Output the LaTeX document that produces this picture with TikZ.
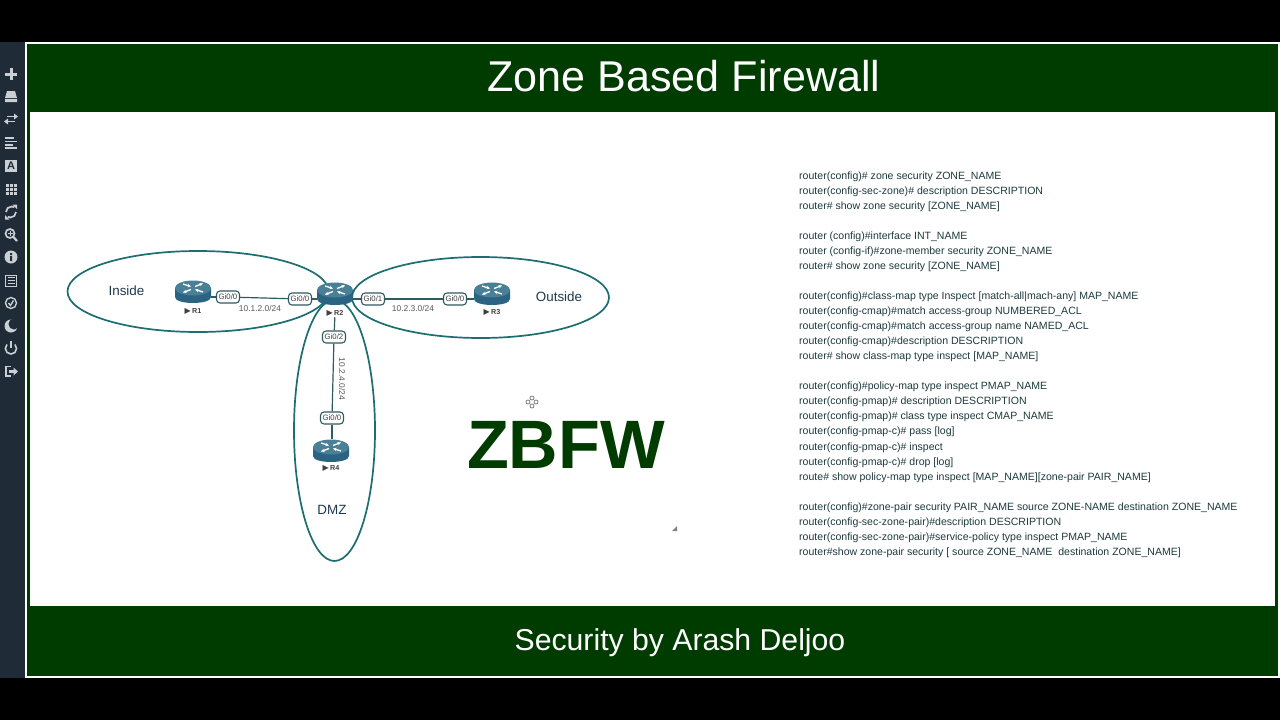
\documentclass[tikz,border=0pt]{standalone}
\usepackage{fontspec}
\setmainfont{Liberation Sans}
\newfontfamily\symfont{DejaVu Sans}
\usetikzlibrary{positioning,calc,shapes.geometric,arrows.meta}
\definecolor{bargreen}{HTML}{003C00}
\definecolor{zoneteal}{HTML}{1C6E70}
\definecolor{linkgray}{HTML}{2F5A60}
\definecolor{routerdark}{HTML}{2A6482}
\definecolor{routertop}{HTML}{4A7F98}
\definecolor{sidebar}{HTML}{1F2B36}
\definecolor{iconcol}{HTML}{C9CFD4}
\definecolor{cmdcol}{HTML}{1E3A3C}
\definecolor{zonetext}{HTML}{1F3A4C}
\tikzset{
  zone/.style={ellipse,draw=zoneteal,line width=1.7pt,inner sep=0pt},
  zonelabel/.style={font=\fontsize{13.4}{16}\selectfont,text=zonetext},
  port/.style={rectangle,rounded corners=3.5pt,draw=linkgray,line width=1.1pt,fill=white,inner sep=1pt,minimum width=23pt,minimum height=12pt,font=\fontsize{7.8}{8}\selectfont,text=black!75},
  net/.style={font=\fontsize{8.4}{10}\selectfont,text=black!65},
  link/.style={draw=linkgray,line width=1.2pt},
  routerbox/.style={rectangle,minimum width=36pt,minimum height=24pt,inner sep=0pt},
  routername/.style={font=\fontsize{7.2}{8}\selectfont\bfseries,text=black!75,inner sep=1pt},
  cmd/.style={anchor=west,inner sep=0pt,font=\fontsize{10.55}{13}\selectfont,text=cmdcol},
  icon/.style={draw=iconcol,line width=1.4pt},
  iconfill/.style={fill=iconcol},
  routerpic/.pic={
    \fill[routerdark] (-18,-4) -- (-18,5) .. controls (-18,13) and (18,13) .. (18,5) -- (18,-4) -- cycle;
    \fill[routertop] (0,-4) ellipse [x radius=18pt,y radius=7.5pt];
    \draw[white,line width=1.3pt,-{Stealth[length=3.5pt,width=3.5pt]}] (-10,-8) -- (-2,-5.5);
    \draw[white,line width=1.3pt,-{Stealth[length=3.5pt,width=3.5pt]}] (2,-5.5) -- (10,-8.5);
    \draw[white,line width=1.3pt,-{Stealth[length=3.5pt,width=3.5pt]}] (-2,-2.5) -- (-10,0.5);
    \draw[white,line width=1.3pt,-{Stealth[length=3.5pt,width=3.5pt]}] (10,0) -- (2,-2.5);
  },
}
\begin{document}
\begin{tikzpicture}[x=1pt,y=-1pt]
% background and frame
\fill[black] (0,0) rectangle (1280,720);
\fill[sidebar] (0,42) rectangle (25,678);
\fill[white] (25,42) rectangle (1280,678);
\fill[bargreen] (27,44) rectangle (1278,676);
\fill[white] (30,112) rectangle (1275,606);
\useasboundingbox (0,0) rectangle (1280,720);
\node (title) at (684,76.5) [font=\fontsize{43.1}{48}\selectfont,text=white] {Zone Based Firewall};
\node (footer) at (680,642.5) [font=\fontsize{30.2}{34}\selectfont,text=white] {Security by Arash Deljoo};
% zones
\node (inside) at (198,291.5) [zone,minimum width=261pt,minimum height=81pt] {};
\node (outside) at (480.5,297.5) [zone,minimum width=257pt,minimum height=81pt] {};
\node (dmz) at (334.5,430.5) [zone,minimum width=81pt,minimum height=261pt] {};
\node (insidelbl) at (126.5,291) [zonelabel] {Inside};
\node (outsidelbl) at (559,297) [zonelabel] {Outside};
\node (dmzlbl) at (332,510) [zonelabel] {DMZ};
% routers
\foreach \name/\x/\y/\ly in {R1/193/292/311,R2/335/294/313,R3/492/294/312,R4/331/451/468} {
    \pic at (\x,\y) {routerpic};
    \node (\name) at (\x,\y) [routerbox] {};
    \node (\name lbl) at (\x,\ly) [routername] {{\symfont\fontsize{8}{8}\selectfont ▶}\,\name};
}
% ports
\node (R1p) at (228,297) [port] {Gi0/0};
\node (R2a) at (300,299) [port] {Gi0/0};
\node (R2b) at (373,299) [port] {Gi0/1};
\node (R3p) at (455,299) [port] {Gi0/0};
\node (R2c) at (334,337) [port] {Gi0/2};
\node (R4p) at (332,418) [port] {Gi0/0};
% links
\draw[link] (R1p.west -| R1.east) -- (R1p.west);
\draw[link] (R1p) -- (R2a);
\draw[link] (R2a.east) -- (R2a.east -| R2.west);
\draw[link] (R2b.west -| R2.east) -- (R2b.west);
\draw[link] (R2b) -- (R3p);
\draw[link] (R3p.east) -- (R3p.east -| R3.west);
\draw[link] (R2lbl) -- (R2c);
\draw[link] (R2c) -- (R4p);
\draw[link] (R4p.south) -- (R4p.south |- R4.north);
\node (net12) at (260,308) [net] {10.1.2.0/24};
\node (net23) at (413,308) [net] {10.2.3.0/24};
\node (net24) at (342,379) [net,rotate=-90] {10.2.4.0/24};
% big label and cursor marks
\node (zbfw) at (566,445) [font=\fontsize{68.5}{72}\selectfont\bfseries,text=bargreen] {ZBFW};
\foreach \dx/\dy in {0/-4,0/4,-4/0,4/0} {
    \draw[black!55,line width=0.7pt,fill=white] (532+\dx,402+\dy) circle (2pt);
}
\fill[black!50] (677,526) -- (677,531) -- (672,531) -- cycle;
% commands
\foreach \y/\txt in {
175/{router(config)\# zone security ZONE\_NAME},
190/{router(config-sec-zone)\# description DESCRIPTION},
205/{router\# show zone security [ZONE\_NAME]},
235/{router (config)\#interface INT\_NAME},
250/{router (config-if)\#zone-member security ZONE\_NAME},
265/{router\# show zone security [ZONE\_NAME]},
295/{router(config)\#class-map type Inspect [match-all|mach-any] MAP\_NAME},
310/{router(config-cmap)\#match access-group NUMBERED\_ACL},
325/{router(config-cmap)\#match access-group name NAMED\_ACL},
340/{router(config-cmap)\#description DESCRIPTION},
355/{router\# show class-map type inspect [MAP\_NAME]},
385/{router(config)\#policy-map type inspect PMAP\_NAME},
400/{router(config-pmap)\# description DESCRIPTION},
415/{router(config-pmap)\# class type inspect CMAP\_NAME},
430/{router(config-pmap-c)\# pass [log]},
446/{router(config-pmap-c)\# inspect},
461/{router(config-pmap-c)\# drop [log]},
476/{route\# show policy-map type inspect [MAP\_NAME][zone-pair PAIR\_NAME]},
506/{router(config)\#zone-pair security PAIR\_NAME source ZONE-NAME destination ZONE\_NAME},
521/{router(config-sec-zone-pair)\#description DESCRIPTION},
536/{router(config-sec-zone-pair)\#service-policy type inspect PMAP\_NAME},
551/{router\#show zone-pair security [ source ZONE\_NAME\ \ destination ZONE\_NAME]}} {
    \node (cmd\y) at (799,\y+1.5) [cmd] {\txt};
}
% sidebar icons
\draw[icon,line width=3pt] (5,74) -- (17,74) (11,68) -- (11,80);
\fill[iconfill] (7,91) -- (15,91) -- (17,98) -- (5,98) -- cycle (5,99) rectangle (17,102);
\draw[icon,line width=1.4pt] (7,116.5) -- (15,116.5) (15,121.5) -- (7,121.5);
\fill[iconfill] (14,113.5) -- (18,116.5) -- (14,119.5) -- cycle (8,118.5) -- (4,121.5) -- (8,124.5) -- cycle;
\foreach \y/\w in {138/9,141.5/12,145/8,148/12} {
    \draw[icon,line width=1.8pt] (5,\y) -- (5+\w,\y);
}
\fill[iconfill] (5,160) rectangle (17,172);
\node (iconA) at (11,166) [inner sep=0pt,font=\fontsize{11}{12}\selectfont\bfseries,text=sidebar] {A};
\foreach \x in {5.5,9.5,13.5} {
    \foreach \y in {184,188,192} {
        \fill[iconfill] (\x,\y) rectangle +(3,3);
    }
}
\draw[icon,line width=1.7pt] (6,212) arc[start angle=180,end angle=60,radius=5.5pt];
\draw[icon,line width=1.7pt] (16,212) arc[start angle=0,end angle=-120,radius=5.5pt];
\fill[iconfill] (12.5,204.5) -- (17,204.5) -- (17,209) -- cycle (9.5,219.5) -- (5,219.5) -- (5,215) -- cycle;
\draw[icon,line width=1.7pt] (10,233.5) circle (4.5pt);
\draw[icon,line width=2.2pt] (13.5,237) -- (17,241);
\draw[icon,line width=0.8pt] (7.5,233.5) -- (12.5,233.5) (10,231) -- (10,236);
\fill[iconfill] (11,257) circle (6.5pt);
\fill[sidebar] (10,253) rectangle (12,255) (10,256) rectangle (12,261);
\draw[icon,line width=1pt] (5.5,275) rectangle (16.5,286);
\foreach \y in {277.5,280.5,283.5} {
    \draw[icon,line width=1pt] (7.5,\y) -- (14.5,\y);
}
\draw[icon] (11,303) circle (5.5pt);
\draw[icon] (8.5,303) -- (10.5,305.5) -- (13.5,300.5);
\fill[iconfill] (11,326) circle (6.5pt);
\fill[sidebar] (14,324) circle (5.5pt);
\draw[icon,line width=1.6pt] (7,344.5) arc[start angle=135,end angle=405,radius=5.6pt];
\draw[icon,line width=1.6pt] (11,341) -- (11,348);
\draw[icon,line width=1.6pt] (11,366.5) -- (6,366.5) -- (6,376) -- (11,376);
\draw[icon,line width=2.2pt] (9,371.5) -- (14,371.5);
\fill[iconfill] (13.5,367.5) -- (18,371.5) -- (13.5,375.5) -- cycle;
\end{tikzpicture}
\end{document}
